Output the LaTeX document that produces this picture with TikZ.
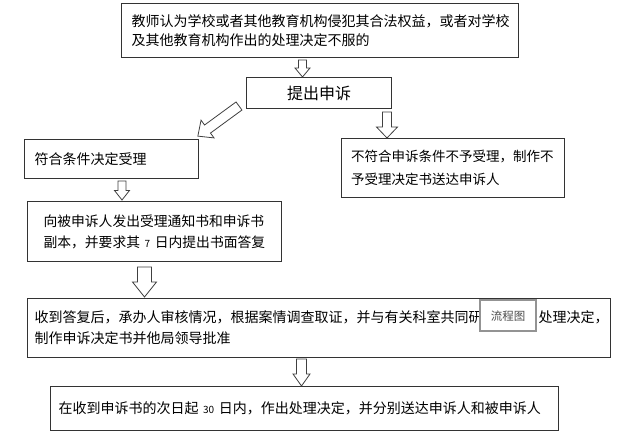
\documentclass[tikz,border=0pt]{standalone}
\usepackage{fontspec}
\setmainfont{Noto Sans CJK SC}
\newcommand\fs[2]{\fontsize{#1pt}{#2pt}\selectfont}
\tikzset{
  box/.style={draw=black!80, line width=1pt, fill=white, anchor=north west,
    align=left, inner ysep=0pt, text=black},
  arrowline/.style={draw=black!75, line width=0.8pt, fill=white, line join=miter},
  pics/hollowarrow/.style n args={4}{code={
    \draw[arrowline] (-#2,0) -- (#2,0) -- (#2,{#1-#4}) -- (#3,{#1-#4}) -- (0,#1)
      -- (-#3,{#1-#4}) -- (-#2,{#1-#4}) -- cycle;
  }}
}
\begin{document}
\begin{tikzpicture}[x=1pt,y=-1pt]
\useasboundingbox[fill=white] (0,0) rectangle (621,435);

\node[box, minimum width=397pt, minimum height=54pt, text width=377pt, inner xsep=10pt,
  font=\fs{14}{19.3}] (b1) at (121,3)
  {教师认为学校或者其他教育机构侵犯其合法权益，或者对学校\\及其他教育机构作出的处理决定不服的};

\node[box, align=center, minimum width=145pt, minimum height=31pt, inner sep=0pt,
  font=\fs{16}{16}] (b2) at (246,77) {提出申诉};

\node[box, minimum width=174pt, minimum height=39pt, text width=154pt, inner xsep=10pt,
  font=\fs{14}{19}] (b3) at (24,139) {符合条件决定受理};

\node[box, minimum width=223pt, minimum height=59pt, text width=204pt, inner xsep=9.5pt,
  font=\fs{13.5}{23}] (b4) at (341,138)
  {不符合申诉条件不予受理，制作不\\予受理决定书送达申诉人};

\node[box, minimum width=254pt, minimum height=60pt, text width=222pt, inner xsep=16pt,
  font=\fs{13.8}{21}] (b5) at (27,201.5)
  {向被申诉人发出受理通知书和申诉书\\副本，并要求其 {\fs{10}{10}7} 日内提出书面答复};

\node[box, minimum width=583pt, minimum height=59pt, text width=569pt, inner xsep=7pt,
  font=\fs{14}{21}] (b6) at (27,298)
  {收到答复后，承办人审核情况，根据案情调查取证，并与有关科室共同研\hspace*{56pt}处理决定，\\制作申诉决定书并他局领导批准};

\node[box, minimum width=508pt, minimum height=44pt, text width=492pt, inner xsep=8pt,
  font=\fs{14}{19}] (b7) at (50,386)
  {在收到申诉书的次日起 {\fs{10}{10}30} 日内，作出处理决定，并分别送达申诉人和被申诉人};

\node[draw=gray!85, line width=2pt, fill=white, minimum width=56pt, minimum height=31pt,
  inner sep=0pt, font=\fs{11.5}{11.5}, text=black!70] (ov) at (508,316) {流程图};

\pic at (302.5,60) {hollowarrow={17}{4}{7.5}{9}};
\pic at (387,112) {hollowarrow={26}{4.5}{10.5}{11}};
\pic at (122,181) {hollowarrow={19}{4}{7.5}{9.5}};
\pic at (144.5,267) {hollowarrow={30}{7}{12}{15}};
\pic at (301.5,359) {hollowarrow={27}{5}{8.5}{12}};
\pic[rotate=-53.8] at (239,106) {hollowarrow={51}{5}{11}{12}};
\end{tikzpicture}
\end{document}
